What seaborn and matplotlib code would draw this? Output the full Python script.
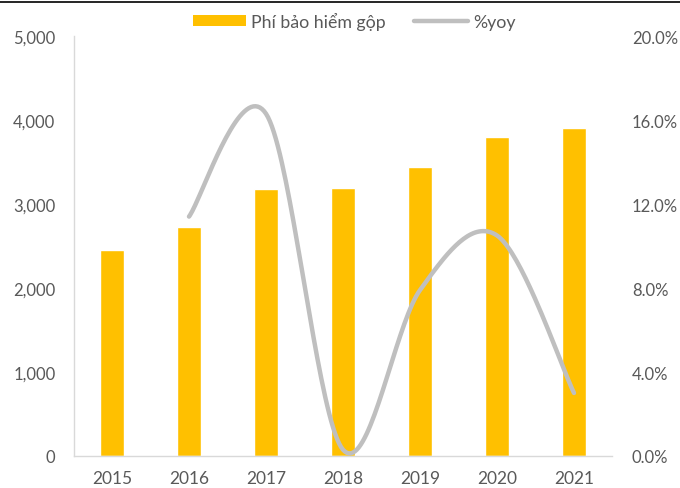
import numpy as np
import pandas as pd
import matplotlib
matplotlib.use("Agg")
import matplotlib.pyplot as plt
import matplotlib.ticker as mticker
from matplotlib.patches import Patch
from matplotlib.lines import Line2D
import seaborn as sns

years = ["2015", "2016", "2017", "2018", "2019", "2020", "2021"]
premium = [2450, 2730, 3180, 3190, 3440, 3800, 3910]
yoy_years = ["2016", "2017", "2018", "2019", "2020", "2021"]
yoy = [0.114, 0.163, 0.003, 0.079, 0.105, 0.030]

sns.set_theme(style="white")
plt.rcParams["font.family"] = ["Lato", "DejaVu Sans"]
text_color = "#595959"


def smooth_curve(xs, ys, n=40):
    # excel-style smoothed line: cubic bezier through the points
    pts = np.column_stack([xs, ys]).astype(float)
    out = []
    for i in range(len(pts) - 1):
        p0 = pts[i]
        p3 = pts[i + 1]
        prev = pts[i - 1] if i > 0 else pts[i]
        nxt = pts[i + 2] if i + 2 < len(pts) else pts[i + 1]
        c1 = p0 + (p3 - prev) / 6
        c2 = p3 - (nxt - p0) / 6
        t = np.linspace(0, 1, n)[:, None]
        seg = ((1 - t) ** 3) * p0 + 3 * ((1 - t) ** 2) * t * c1 + 3 * (1 - t) * t ** 2 * c2 + t ** 3 * p3
        out.append(seg if i == 0 else seg[1:])
    out = np.vstack(out)
    return out[:, 0], out[:, 1]


df = pd.DataFrame({"year": years, "premium": premium})

fig = plt.figure(figsize=(6.8, 4.89), dpi=100)
ax = fig.add_axes([73.5 / 680, 32 / 489, 539 / 680, 420 / 489])
sns.barplot(data=df, x="year", y="premium", color="#FFC000", width=0.31,
            saturation=1, ax=ax, zorder=2)
ax.set_xlim(-0.5, len(years) - 0.5)
ax.set_ylim(0, 5000)
ax.set_yticks(range(0, 5001, 1000))
ax.yaxis.set_major_formatter(mticker.StrMethodFormatter("{x:,.0f}"))
ax.set_xlabel("")
ax.set_ylabel("")
for s in ["top", "right"]:
    ax.spines[s].set_visible(False)
for s in ["left", "bottom"]:
    ax.spines[s].set_color("#D9D9D9")
    ax.spines[s].set_linewidth(1)
ax.tick_params(axis="y", length=0, pad=13, labelsize=12, labelcolor=text_color)
ax.tick_params(axis="x", length=0, pad=10, labelsize=12.5, labelcolor=text_color)

ax2 = ax.twinx()
xpos = [years.index(y) for y in yoy_years]
cx, cy = smooth_curve(xpos, yoy)
ax2.plot(cx, cy, color="#BFBFBF", lw=3.2, solid_capstyle="round", zorder=3)
ax2.set_ylim(0, 0.2)
ax2.set_yticks(np.arange(0, 0.2001, 0.04))
ax2.yaxis.set_major_formatter(mticker.PercentFormatter(1.0, decimals=1))
for s in ["top", "right", "left", "bottom"]:
    ax2.spines[s].set_visible(False)
ax2.tick_params(axis="y", length=0, pad=14, labelsize=12, labelcolor=text_color)
ax2.grid(False)
ax.grid(False)

handles = [Patch(facecolor="#FFC000", edgecolor="none"),
           Line2D([0], [0], color="#BFBFBF", lw=3.2, solid_capstyle="round")]
fig.legend(handles, ["Phí bảo hiểm gộp", "%yoy"], loc="center",
           bbox_to_anchor=(0.5 + 14 / 680, 1 - 22 / 489), ncol=2, frameon=False,
           fontsize=12.8, labelcolor=text_color, handlelength=3.0,
           handleheight=0.55, columnspacing=1.6, handletextpad=0.3)

fig.add_artist(Line2D([0, 1], [1 - 3 / 489, 1 - 3 / 489], color="black", lw=1.2))

fig.savefig("out.png", dpi=100)
